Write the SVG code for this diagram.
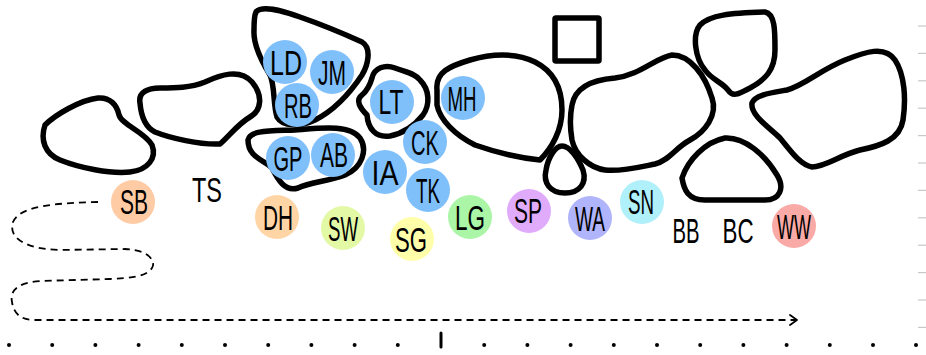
<svg xmlns="http://www.w3.org/2000/svg" width="926" height="355" viewBox="0 0 926 355">
<style>
.blob{fill:none;stroke:#000;stroke-width:5.5;stroke-linejoin:round;stroke-linecap:round}
.lbl{font-family:"Liberation Sans Narrow","Liberation Sans",sans-serif;font-size:35px;fill:#000;text-anchor:middle}
.blue{fill:#80c0fa}
.tick{stroke:#c8c8c8;stroke-width:1.2}
.dot{fill:#000}
.conn{fill:none;stroke:#000;stroke-width:1.8;stroke-dasharray:7 5}
</style>
<defs>
<marker id="arr" markerWidth="12" markerHeight="12" refX="9" refY="6" orient="auto" markerUnits="userSpaceOnUse">
<path d="M2,1 L9,6 L2,11" fill="none" stroke="#000" stroke-width="1.8" stroke-linecap="round" stroke-linejoin="round"/>
</marker>
</defs>
<rect width="926" height="355" fill="#fff"/>

<g id="right-ticks">
<line class="tick" x1="918" y1="26" x2="926" y2="26"/>
<line class="tick" x1="918" y1="53.4" x2="926" y2="53.4"/>
<line class="tick" x1="918" y1="80.8" x2="926" y2="80.8"/>
<line class="tick" x1="918" y1="108.2" x2="926" y2="108.2"/>
<line class="tick" x1="918" y1="135.6" x2="926" y2="135.6"/>
<line class="tick" x1="918" y1="163" x2="926" y2="163"/>
<line class="tick" x1="918" y1="190.4" x2="926" y2="190.4"/>
<line class="tick" x1="918" y1="217.8" x2="926" y2="217.8"/>
<line class="tick" x1="918" y1="245.2" x2="926" y2="245.2"/>
<line class="tick" x1="918" y1="272.6" x2="926" y2="272.6"/>
<line class="tick" x1="918" y1="300" x2="926" y2="300"/>
<line class="tick" x1="918" y1="327.4" x2="926" y2="327.4"/>
</g>

<g id="bottom-axis">
<circle class="dot" cx="9" cy="345" r="2"/>
<circle class="dot" cx="52.2" cy="345" r="2"/>
<circle class="dot" cx="95.4" cy="345" r="2"/>
<circle class="dot" cx="138.6" cy="345" r="2"/>
<circle class="dot" cx="181.8" cy="345" r="2"/>
<circle class="dot" cx="225" cy="345" r="2"/>
<circle class="dot" cx="268.2" cy="345" r="2"/>
<circle class="dot" cx="311.4" cy="345" r="2"/>
<circle class="dot" cx="354.6" cy="345" r="2"/>
<circle class="dot" cx="397.8" cy="345" r="2"/>
<line x1="441" y1="333" x2="441" y2="347" stroke="#000" stroke-width="3" stroke-linecap="round"/>
<circle class="dot" cx="484.2" cy="345" r="2"/>
<circle class="dot" cx="527.4" cy="345" r="2"/>
<circle class="dot" cx="570.6" cy="345" r="2"/>
<circle class="dot" cx="613.8" cy="345" r="2"/>
<circle class="dot" cx="657" cy="345" r="2"/>
<circle class="dot" cx="700.2" cy="345" r="2"/>
<circle class="dot" cx="743.4" cy="345" r="2"/>
<circle class="dot" cx="786.6" cy="345" r="2"/>
<circle class="dot" cx="829.8" cy="345" r="2"/>
<circle class="dot" cx="873" cy="345" r="2"/>
<circle class="dot" cx="916" cy="345" r="2"/>
</g>

<g id="regions">
<path id="region-1" class="blob" d="M45,125 C55,115 80,100 98,98 C110,97 117,105 119,115 C122,125 145,132 152,145 C157,158 148,170 130,172 C110,174 80,168 60,160 C45,154 40,140 45,125 Z"/>
<path id="region-2" class="blob" d="M140,103 C138,92 148,88 160,88 C175,88 190,88 205,82 C220,75 240,68 252,82 C263,95 262,110 250,117 C238,124 230,135 220,144 C200,145 170,138 155,132 C145,127 141,115 140,103 Z"/>
<path id="region-3" class="blob" d="M256,12 C262,5 280,10 300,17 C320,24 340,32 362,42 C372,48 368,65 362,75 C352,90 335,110 315,120 C300,127 283,127 277,117 C273,105 275,85 270,75 C262,62 253,45 254,30 C254,22 254,16 256,12 Z"/>
<path id="region-4" class="blob" d="M248,140 C250,130 270,131 295,130 C320,128 350,124 360,138 C368,150 362,168 345,175 C330,181 310,182 298,188 C285,192 278,180 272,168 C265,160 248,158 248,140 Z"/>
<path id="region-5" class="blob" d="M372,78 C374,68 385,64 395,68 C405,72 415,73 420,80 C430,90 430,105 423,115 C415,125 405,133 390,136 C375,138 368,128 367,115 C360,108 355,100 362,95 C368,90 370,85 372,78 Z"/>
<path id="region-6" class="blob" d="M437,90 C435,72 450,66 470,60 C490,54 515,52 535,62 C555,72 562,90 562,110 C562,130 552,148 540,160 C520,158 495,152 475,145 C455,135 440,120 437,105 Z"/>
<path id="region-7" class="blob" d="M562,146 C570,146 578,158 583,170 C587,183 580,193 565,193 C550,193 543,183 546,170 C548,158 555,146 562,146 Z"/>
<path id="region-8" class="blob" d="M572,105 C575,88 590,80 615,78 C640,75 655,58 672,55 C690,55 705,75 712,98 C718,115 705,132 690,140 C675,148 670,160 655,164 C640,167 620,172 605,170 C590,168 575,155 572,140 C570,128 570,115 572,105 Z"/>
<path id="region-9" class="blob" d="M700,25 C710,15 730,13 765,12 C775,14 775,30 775,50 C775,70 765,80 750,88 C740,93 733,98 728,90 C722,82 712,80 705,70 C695,58 692,35 700,25 Z"/>
<path id="region-10" class="blob" d="M752,103 C755,95 770,93 787,90 C805,85 820,70 845,60 C865,52 885,45 895,60 C905,75 906,100 903,120 C900,140 880,146 860,150 C840,155 825,167 812,167 C800,165 790,150 780,138 C770,128 750,115 752,103 Z"/>
<path id="region-11" class="blob" d="M682,178 C688,160 705,142 725,138 C745,137 765,155 777,175 C785,188 780,200 765,200 L705,200 C688,200 684,190 682,178 Z"/>
<rect id="square" class="blob" x="555" y="18" width="44" height="43" rx="1"/>
</g>

<g id="connectors">
<path class="conn" marker-end="url(#arr)" d="M98,202 C60,203 20,205 13,222 C8,238 25,249 60,250 L125,249 C150,250 156,262 152,268 C146,277 130,278 110,279 L40,281 C15,283 10,292 12,302 C14,315 22,320 35,320 L797,320"/>
</g>

<g id="node-LD"><circle class="blue" cx="285" cy="62" r="22"/><text class="lbl" x="286" y="75" textLength="32" lengthAdjust="spacingAndGlyphs">LD</text></g>
<g id="node-JM"><circle class="blue" cx="332" cy="72" r="22"/><text class="lbl" x="332" y="85" textLength="28" lengthAdjust="spacingAndGlyphs">JM</text></g>
<g id="node-RB"><circle class="blue" cx="297" cy="105" r="22"/><text class="lbl" x="298" y="118" textLength="28" lengthAdjust="spacingAndGlyphs">RB</text></g>
<g id="node-GP"><circle class="blue" cx="288" cy="158" r="22"/><text class="lbl" x="288" y="171" textLength="29" lengthAdjust="spacingAndGlyphs">GP</text></g>
<g id="node-AB"><circle class="blue" cx="333" cy="155" r="22"/><text class="lbl" x="334" y="167" textLength="28" lengthAdjust="spacingAndGlyphs">AB</text></g>
<g id="node-LT"><circle class="blue" cx="392" cy="102" r="22"/><text class="lbl" x="391" y="114" textLength="25" lengthAdjust="spacingAndGlyphs">LT</text></g>
<g id="node-MH"><circle class="blue" cx="463" cy="98" r="22"/><text class="lbl" x="462" y="111" textLength="29" lengthAdjust="spacingAndGlyphs">MH</text></g>
<g id="node-CK"><circle class="blue" cx="425" cy="142" r="22"/><text class="lbl" x="425" y="155" textLength="28" lengthAdjust="spacingAndGlyphs">CK</text></g>
<g id="node-IA"><circle class="blue" cx="385" cy="172" r="22"/><text class="lbl" x="385" y="185" textLength="27" lengthAdjust="spacingAndGlyphs">IA</text></g>
<g id="node-TK"><circle class="blue" cx="428" cy="190" r="22"/><text class="lbl" x="428" y="203" textLength="24" lengthAdjust="spacingAndGlyphs">TK</text></g>
<g id="node-SB"><circle fill="#ffcba4" cx="133" cy="202" r="22"/><text class="lbl" x="134" y="214" textLength="28" lengthAdjust="spacingAndGlyphs">SB</text></g>
<g id="node-TS"><text class="lbl" x="207" y="202" textLength="30" lengthAdjust="spacingAndGlyphs">TS</text></g>
<g id="node-DH"><circle fill="#ffd5a6" cx="277" cy="217" r="22"/><text class="lbl" x="278" y="230" textLength="30" lengthAdjust="spacingAndGlyphs">DH</text></g>
<g id="node-SW"><circle fill="#e3f9a6" cx="343" cy="228" r="22"/><text class="lbl" x="343" y="241" textLength="30" lengthAdjust="spacingAndGlyphs">SW</text></g>
<g id="node-SG"><circle fill="#ffffaa" cx="412" cy="239" r="22"/><text class="lbl" x="411" y="252" textLength="32" lengthAdjust="spacingAndGlyphs">SG</text></g>
<g id="node-LG"><circle fill="#aaf5a6" cx="470" cy="217" r="22"/><text class="lbl" x="470" y="230" textLength="30" lengthAdjust="spacingAndGlyphs">LG</text></g>
<g id="node-SP"><circle fill="#e0abfa" cx="529" cy="211" r="22"/><text class="lbl" x="528" y="223" textLength="28" lengthAdjust="spacingAndGlyphs">SP</text></g>
<g id="node-WA"><circle fill="#b0b4fa" cx="590" cy="218" r="22"/><text class="lbl" x="590" y="231" textLength="30" lengthAdjust="spacingAndGlyphs">WA</text></g>
<g id="node-SN"><circle fill="#b0f0fa" cx="642" cy="202" r="22"/><text class="lbl" x="641" y="214" textLength="26" lengthAdjust="spacingAndGlyphs">SN</text></g>
<g id="node-BB"><text class="lbl" x="686" y="243" textLength="27" lengthAdjust="spacingAndGlyphs">BB</text></g>
<g id="node-BC"><text class="lbl" x="738" y="243" textLength="31" lengthAdjust="spacingAndGlyphs">BC</text></g>
<g id="node-WW"><circle fill="#faaaa6" cx="794" cy="226" r="22"/><text class="lbl" x="794" y="239" textLength="34" lengthAdjust="spacingAndGlyphs">WW</text></g>
</svg>
